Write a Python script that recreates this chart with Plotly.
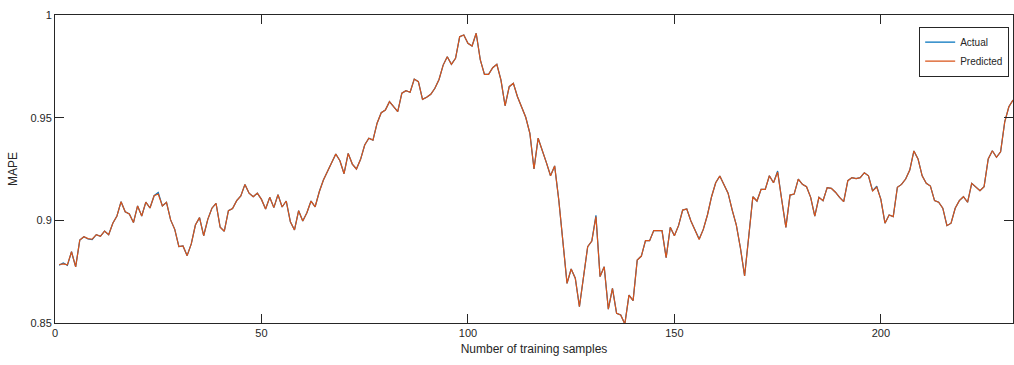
import plotly.graph_objects as go

samples = list(range(1, 233))

actual = [
    0.8781, 0.8792, 0.8781, 0.8847, 0.8773, 0.8904, 0.8920, 0.8909, 0.8906, 0.8930,
    0.8922, 0.8948, 0.8930, 0.8986, 0.9021, 0.9091, 0.9042, 0.9031, 0.8989, 0.9070,
    0.9021, 0.9089, 0.9060, 0.9120, 0.9136, 0.9070, 0.9088, 0.9002, 0.8956, 0.8872,
    0.8875, 0.8828, 0.8885, 0.8977, 0.9013, 0.8925, 0.9005, 0.9059, 0.9083, 0.8966,
    0.8947, 0.9047, 0.9057, 0.9096, 0.9119, 0.9175, 0.9132, 0.9115, 0.9132, 0.9102,
    0.9055, 0.9112, 0.9062, 0.9125, 0.9065, 0.9094, 0.8993, 0.8953, 0.9047, 0.8997,
    0.9037, 0.9094, 0.9066, 0.9139, 0.9196, 0.9237, 0.9286, 0.9323, 0.9290, 0.9227,
    0.9326, 0.9274, 0.9250, 0.9297, 0.9367, 0.9400, 0.9391, 0.9473, 0.9524, 0.9537,
    0.9578, 0.9553, 0.9529, 0.9619, 0.9631, 0.9624, 0.9688, 0.9675, 0.9589, 0.9599,
    0.9614, 0.9643, 0.9686, 0.9756, 0.9797, 0.9760, 0.9789, 0.9894, 0.9903, 0.9862,
    0.9849, 0.9911, 0.9781, 0.9711, 0.9711, 0.9743, 0.9760, 0.9683, 0.9558, 0.9651,
    0.9667, 0.9602, 0.9550, 0.9502, 0.9424, 0.9250, 0.9400, 0.9343, 0.9281, 0.9217,
    0.9265, 0.9099, 0.8888, 0.8693, 0.8763, 0.8718, 0.8579, 0.8726, 0.8872, 0.8899,
    0.9024, 0.8726, 0.8774, 0.8567, 0.8669, 0.8547, 0.8539, 0.8495, 0.8636, 0.8609,
    0.8807, 0.8826, 0.8901, 0.8901, 0.8950, 0.8950, 0.8950, 0.8818, 0.8966, 0.8925,
    0.8974, 0.9050, 0.9055, 0.8997, 0.8953, 0.8909, 0.8956, 0.9026, 0.9115, 0.9183,
    0.9216, 0.9177, 0.9132, 0.9050, 0.8977, 0.8864, 0.8729, 0.8920, 0.9115, 0.9094,
    0.9151, 0.9151, 0.9217, 0.9183, 0.9240, 0.9099, 0.8966, 0.9123, 0.9128, 0.9201,
    0.9175, 0.9164, 0.9112, 0.9021, 0.9112, 0.9096, 0.9159, 0.9156, 0.9137, 0.9112,
    0.9091, 0.9193, 0.9208, 0.9203, 0.9208, 0.9232, 0.9217, 0.9143, 0.9166, 0.9102,
    0.8986, 0.9026, 0.9018, 0.9161, 0.9175, 0.9201, 0.9245, 0.9338, 0.9299, 0.9217,
    0.9180, 0.9167, 0.9096, 0.9088, 0.9059, 0.8974, 0.8986, 0.9059, 0.9096, 0.9115,
    0.9088, 0.9180, 0.9164, 0.9144, 0.9164, 0.9299, 0.9339, 0.9307, 0.9334, 0.9480,
    0.9553, 0.9586,
]

predicted = [
    0.8785, 0.8788, 0.8783, 0.8847, 0.8773, 0.8904, 0.8920, 0.8911, 0.8908, 0.8930,
    0.8922, 0.8948, 0.8930, 0.8986, 0.9021, 0.9091, 0.9042, 0.9031, 0.8989, 0.9070,
    0.9021, 0.9089, 0.9060, 0.9120, 0.9128, 0.9070, 0.9088, 0.9002, 0.8956, 0.8872,
    0.8875, 0.8828, 0.8885, 0.8977, 0.9013, 0.8925, 0.9005, 0.9059, 0.9083, 0.8966,
    0.8947, 0.9047, 0.9057, 0.9096, 0.9119, 0.9175, 0.9132, 0.9115, 0.9132, 0.9102,
    0.9055, 0.9112, 0.9062, 0.9125, 0.9065, 0.9094, 0.8993, 0.8953, 0.9047, 0.8997,
    0.9037, 0.9094, 0.9066, 0.9139, 0.9196, 0.9237, 0.9286, 0.9323, 0.9290, 0.9227,
    0.9326, 0.9274, 0.9250, 0.9297, 0.9367, 0.9400, 0.9391, 0.9473, 0.9524, 0.9537,
    0.9578, 0.9553, 0.9529, 0.9619, 0.9631, 0.9624, 0.9688, 0.9675, 0.9589, 0.9599,
    0.9614, 0.9643, 0.9686, 0.9756, 0.9797, 0.9760, 0.9789, 0.9894, 0.9903, 0.9862,
    0.9849, 0.9911, 0.9781, 0.9711, 0.9711, 0.9743, 0.9760, 0.9683, 0.9558, 0.9651,
    0.9667, 0.9602, 0.9550, 0.9502, 0.9424, 0.9250, 0.9400, 0.9343, 0.9281, 0.9217,
    0.9265, 0.9099, 0.8888, 0.8693, 0.8763, 0.8718, 0.8579, 0.8726, 0.8872, 0.8899,
    0.9018, 0.8726, 0.8774, 0.8567, 0.8669, 0.8547, 0.8539, 0.8495, 0.8636, 0.8609,
    0.8807, 0.8826, 0.8901, 0.8901, 0.8950, 0.8950, 0.8950, 0.8818, 0.8966, 0.8925,
    0.8974, 0.9050, 0.9055, 0.8997, 0.8953, 0.8907, 0.8956, 0.9026, 0.9115, 0.9183,
    0.9216, 0.9177, 0.9132, 0.9050, 0.8977, 0.8864, 0.8729, 0.8920, 0.9115, 0.9094,
    0.9151, 0.9151, 0.9217, 0.9183, 0.9235, 0.9099, 0.8966, 0.9123, 0.9128, 0.9201,
    0.9175, 0.9164, 0.9112, 0.9021, 0.9112, 0.9096, 0.9159, 0.9156, 0.9137, 0.9112,
    0.9091, 0.9193, 0.9208, 0.9203, 0.9208, 0.9232, 0.9217, 0.9143, 0.9162, 0.9102,
    0.8986, 0.9026, 0.9018, 0.9161, 0.9175, 0.9201, 0.9245, 0.9338, 0.9299, 0.9217,
    0.9180, 0.9167, 0.9096, 0.9088, 0.9059, 0.8974, 0.8986, 0.9059, 0.9096, 0.9115,
    0.9088, 0.9180, 0.9164, 0.9144, 0.9164, 0.9299, 0.9339, 0.9307, 0.9334, 0.9480,
    0.9553, 0.9586,
]

x_ticks = [0, 50, 100, 150, 200]
y_ticks = [0.85, 0.9, 0.95, 1.0]
y_tick_labels = ["0.85", "0.9", "0.95", "1"]

axis_color = "#262626"
font_family = "Liberation Sans, Arial, sans-serif"

fig = go.Figure()
fig.add_trace(go.Scatter(x=samples, y=actual, mode="lines", name="Actual",
                         line=dict(color="#0072BD", width=1.2)))
fig.add_trace(go.Scatter(x=samples, y=predicted, mode="lines", name="Predicted",
                         line=dict(color="#D95319", width=1.2)))

fig.update_layout(
    width=1014, height=365,
    margin=dict(l=55, r=1, t=15, b=42, autoexpand=False),
    paper_bgcolor="white", plot_bgcolor="white",
    font=dict(family=font_family, size=11, color=axis_color),
    showlegend=True,
    legend=dict(x=0.996, y=0.962, xanchor="right", yanchor="top",
                bgcolor="white", bordercolor=axis_color, borderwidth=1,
                font=dict(size=10, color=axis_color),
                tracegroupgap=0),
)
fig.update_xaxes(
    range=[0, 232], tickvals=x_ticks, showgrid=False, zeroline=False,
    automargin=False,
    showline=True, linecolor=axis_color, linewidth=1, mirror="ticks",
    ticks="inside", ticklen=9, tickcolor=axis_color,
    title=dict(text="Number of training samples", font=dict(size=12), standoff=6),
)
fig.update_yaxes(
    range=[0.85, 1.0], tickvals=y_ticks, ticktext=y_tick_labels,
    showgrid=False, zeroline=False,
    automargin=False,
    showline=True, linecolor=axis_color, linewidth=1, mirror="ticks",
    ticks="inside", ticklen=9, tickcolor=axis_color,
    title=dict(text="MAPE", font=dict(size=12), standoff=10),
)

# remove the browser's default 8px body margin so the 1014x365 figure fills the window
fig.write_html(
    "out.html",
    config={"displayModeBar": False},
    post_script="document.body.style.margin='0';document.body.style.overflow='hidden';",
)
